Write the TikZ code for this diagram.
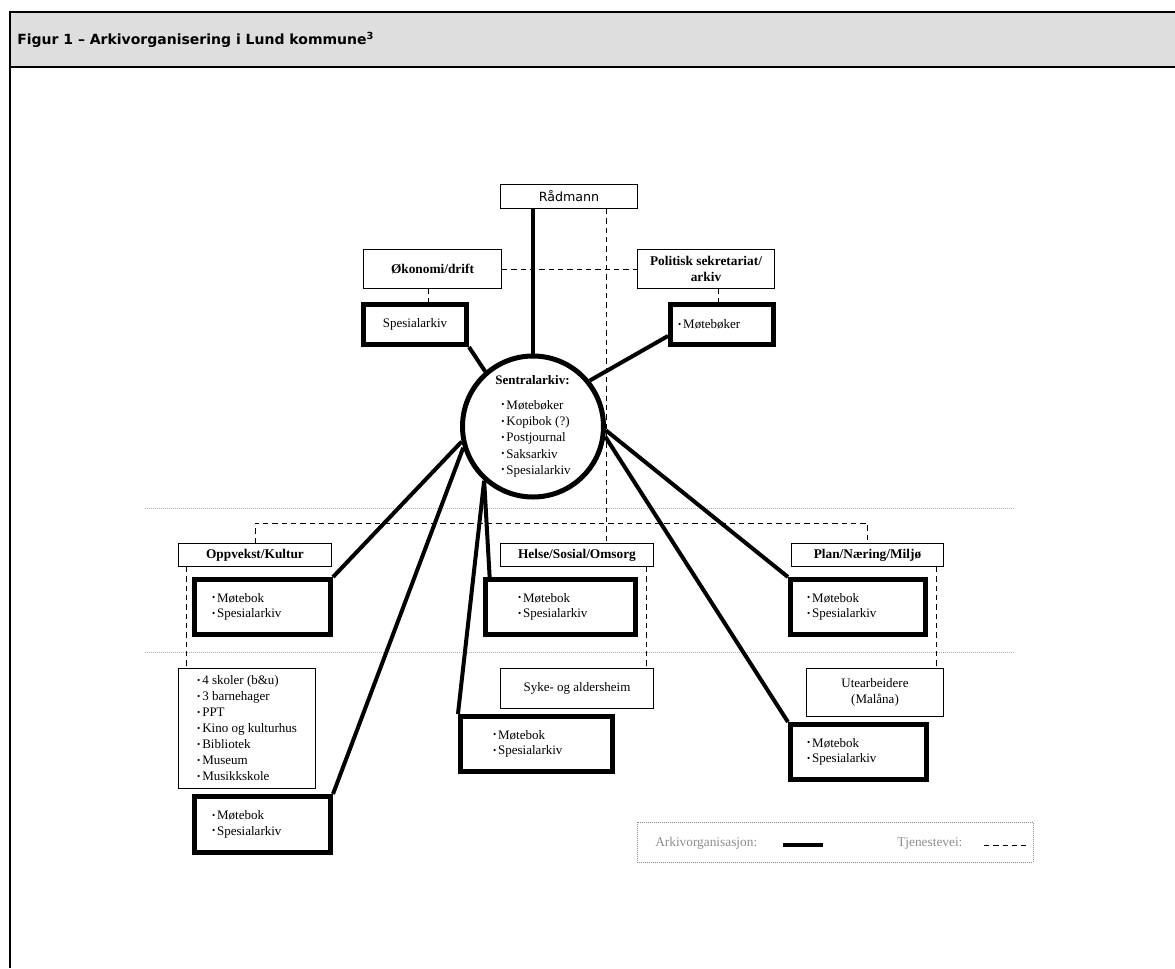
\documentclass[tikz,border=0pt]{standalone}
\usepackage{graphicx}
\usepackage{fontspec}
\setmainfont{Liberation Serif}
\newfontfamily\verdana{DejaVu Sans}
\definecolor{topgraa}{HTML}{DEDEDE}
\definecolor{leggraa}{HTML}{8C8C8C}
\newcommand{\pkt}{\raisebox{0.25ex}{\scalebox{0.7}{\textbullet}}\hspace{1.5pt}}

\begin{document}
\begin{tikzpicture}[x=0.75pt,y=-0.75pt,
  tynn/.style={draw,line width=0.75pt,font=\fontsize{10}{11.5}\selectfont\bfseries,align=center,inner sep=0pt},
  tykk/.style={draw,line width=3.75pt,font=\fontsize{9.75}{11.5}\selectfont,align=left,inner ysep=0pt},
  arkivlinje/.style={line width=3pt},
  tjeneste/.style={line width=0.75pt,dash pattern=on 4pt off 3pt}]
\useasboundingbox (0,0) rectangle (1175,968);

% overskrift
\fill[topgraa] (10,12) rectangle (1175,67);
\draw[line width=1.5pt] (1175,12) -- (10,12) -- (10,968);
\draw[line width=1.5pt] (10,67) -- (1175,67);
\node[anchor=west,inner sep=0pt,font=\verdana\fontsize{10.5}{12.5}\selectfont\bfseries] (tittel) at (17,40) {Figur 1 – Arkivorganisering i Lund kommune\textsuperscript{3}};

% skillelinjer
\draw[leggraa!70,densely dotted,line width=0.5pt] (145,508) -- (1015,508);
\draw[leggraa!70,densely dotted,line width=0.5pt] (145,652) -- (1015,652);

% toppen
\node[tynn,minimum width=103pt,minimum height=18pt,font=\verdana\fontsize{9.5}{11}\selectfont] (raadmann) at (569,196.5) {Rådmann};
\node[tynn,minimum width=103.5pt,minimum height=29.25pt] (okonomi) at (432.5,269) {Økonomi/drift};
\node[tynn,minimum width=103pt,minimum height=29.25pt] (politisk) at (706,269) {Politisk sekretariat/\\arkiv};
\node[tykk,minimum width=77.25pt,minimum height=30pt,align=center] (spes) at (415,324.5) {Spesialarkiv};
\node[tykk,minimum width=77.25pt,minimum height=30pt,text width=66pt,inner xsep=5.6pt] (moteb) at (722,324.5) {\pkt Møtebøker};

\node[circle,draw,line width=3.75pt,minimum size=105.75pt,inner sep=0pt,align=left,font=\fontsize{9.75}{12.2}\selectfont] (sentral) at (533,426.5)
  {\textbf{Sentralarkiv:}\\[6pt]
   \hspace*{4.5pt}\pkt Møtebøker\\
   \hspace*{4.5pt}\pkt Kopibok (?)\hspace*{8pt}\\
   \hspace*{4.5pt}\pkt Postjournal\\
   \hspace*{4.5pt}\pkt Saksarkiv\\
   \hspace*{4.5pt}\pkt Spesialarkiv};

% sektorene
\node[tynn,minimum width=115pt,minimum height=17.25pt] (oppvekst) at (255,555) {Oppvekst/Kultur};
\node[tynn,minimum width=115pt,minimum height=17.25pt] (helse) at (577,555) {Helse/Sosial/Omsorg};
\node[tynn,minimum width=114pt,minimum height=17.25pt] (plan) at (867.5,555) {Plan/Næring/Miljø};

\node[tykk,minimum width=102pt,minimum height=41.25pt,text width=75.75pt,inner xsep=13.1pt] (oppmote) at (262.5,607) {\pkt Møtebok\\\pkt Spesialarkiv};
\node[tykk,minimum width=112.5pt,minimum height=41.25pt,text width=63.75pt,inner xsep=24.4pt] (helsemote) at (560.5,607) {\pkt Møtebok\\\pkt Spesialarkiv};
\node[tykk,minimum width=101.25pt,minimum height=41.25pt,text width=76.5pt,inner xsep=12.4pt] (planmote) at (858,607) {\pkt Møtebok\\\pkt Spesialarkiv};

% enhetene
\node[tynn,font=\fontsize{9.75}{12}\selectfont,align=left,minimum width=103pt,minimum height=90pt] (enheter) at (247,728.5)
  {\pkt 4 skoler (b\&u)\\\pkt 3 barnehager\\\pkt PPT\\\pkt Kino og kulturhus\\\pkt Bibliotek\\\pkt Museum\\\pkt Musikkskole\hspace*{8pt}};
\node[tynn,font=\fontsize{9.75}{11.5}\selectfont,minimum width=115pt,minimum height=30pt] (syke) at (577,688.5) {Syke- og aldersheim};
\node[tynn,font=\fontsize{9.75}{11.5}\selectfont,minimum width=103pt,minimum height=36pt] (ute) at (875,692.5) {Utearbeidere\\(Malåna)};

\node[tykk,minimum width=102pt,minimum height=42pt,text width=75.75pt,inner xsep=13.1pt] (oppmote2) at (262.5,824.5) {\pkt Møtebok\\\pkt Spesialarkiv};
\node[tykk,minimum width=114pt,minimum height=41.25pt,text width=65.25pt,inner xsep=24.4pt] (helsemote2) at (536.5,744) {\pkt Møtebok\\\pkt Spesialarkiv};
\node[tykk,minimum width=102pt,minimum height=41.25pt,text width=77.25pt,inner xsep=12.4pt] (planmote2) at (858.5,752) {\pkt Møtebok\\\pkt Spesialarkiv};

% arkivorganisasjon
\draw[arkivlinje] (sentral.north) -- (sentral.north |- raadmann.south);
\draw[arkivlinje] (spes.south east) -- (sentral.131);
\draw[arkivlinje] (moteb.192) -- (sentral.39);
\draw[arkivlinje] (sentral.192) -- (oppmote.north east);
\draw[arkivlinje] (sentral.197) -- (oppmote2.north east);
\draw[arkivlinje] (sentral.228) -- ([xshift=5pt]helsemote.north west);
\draw[arkivlinje] (sentral.228) -- (helsemote2.north west);
\draw[arkivlinje] (sentral.-3) -- (planmote.north west);
\draw[arkivlinje] (sentral.-8) -- (planmote2.north west);

% tjenestevei
\draw[tjeneste] (okonomi.east) -- (politisk.west);
\draw[tjeneste] ([xshift=27.75pt]raadmann.south) coordinate (rt) -- (rt |- helse.north);
\draw[tjeneste] ([xshift=-3pt]okonomi.south) coordinate (ot) -- (ot |- spes.north);
\draw[tjeneste] ([xshift=9pt]politisk.south) coordinate (pk) -- (pk |- moteb.north);
\draw[tjeneste] (oppvekst.north) -- ++(0,-20) -| (plan.north);
\draw[tjeneste] ([xshift=6.75pt]oppvekst.south west) coordinate (ov) -- (ov |- enheter.north);
\draw[tjeneste] ([xshift=-6pt]helse.south east) coordinate (hs) -- (hs |- syke.north);
\draw[tjeneste] ([xshift=-6pt]plan.south east) coordinate (pn) -- (pn |- ute.north);

% forklaring
\node[draw=leggraa,densely dotted,line width=0.5pt,minimum width=297pt,minimum height=30pt] (legende) at (835,842) {};
\node[anchor=west,inner sep=0pt,text=leggraa,font=\fontsize{10}{12}\selectfont] (legarkiv) at (655,843) {Arkivorganisasjon:};
\node[anchor=west,inner sep=0pt,text=leggraa,font=\fontsize{10}{12}\selectfont] (legtj) at (897,843) {Tjenestevei:};
\draw[arkivlinje] ([xshift=19pt,yshift=-1.5pt]legarkiv.east) -- ++(40,0);
\draw[tjeneste] ([xshift=16pt,yshift=-1.5pt]legtj.east) -- ++(42,0);
\end{tikzpicture}
\end{document}
